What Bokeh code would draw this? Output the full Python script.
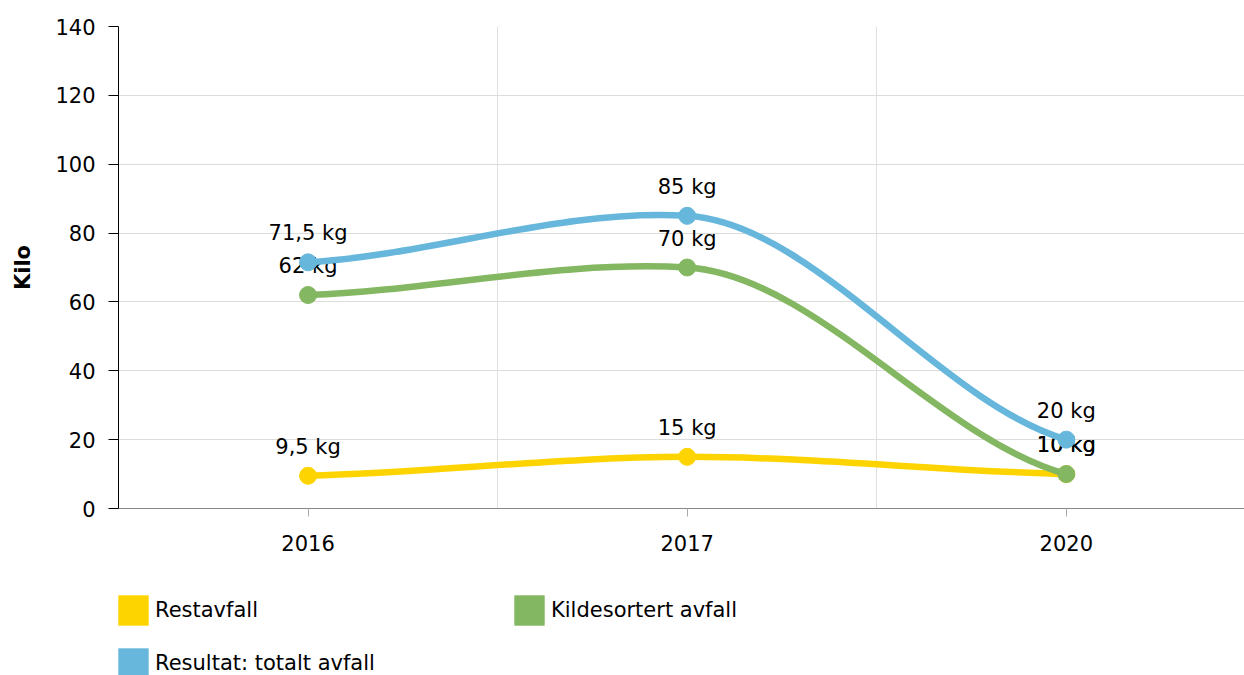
from bokeh.plotting import figure
from bokeh.layouts import column
from bokeh.models import Range1d, FixedTicker, Legend, LegendItem, ColumnDataSource
from bokeh.core.properties import value
from bokeh.embed import file_html
from bokeh.resources import INLINE

years = ["2016", "2017", "2020"]
restavfall = [9.5, 15, 10]
kildesortert = [62, 70, 10]
totalt = [71.5, 85, 20]
series_names = ["Restavfall", "Kildesortert avfall", "Resultat: totalt avfall"]
series_colors = ["#FDD400", "#84B761", "#67B7DC"]
y_ticks = [0, 20, 40, 60, 80, 100, 120, 140]

FONT = "DejaVu Sans"
FS = "21px"

p = figure(width=1244, height=583, output_backend="svg", toolbar_location=None,
           x_range=Range1d(-0.5, 2.47), y_range=Range1d(0, 140),
           min_border_left=118, min_border_top=26, min_border_right=0, min_border_bottom=75)
p.outline_line_color = None
p.background_fill_color = "white"

xpos = list(range(len(years)))

# axes
p.yaxis.ticker = FixedTicker(ticks=y_ticks)
p.yaxis.axis_label = "Kilo"
p.yaxis.axis_label_text_font = FONT
p.yaxis.axis_label_text_font_size = FS
p.yaxis.axis_label_text_font_style = "bold"
p.yaxis.axis_label_text_color = "black"
p.yaxis.axis_label_standoff = 17
p.yaxis.axis_line_color = "black"
p.yaxis.major_tick_line_color = "black"
p.yaxis.major_tick_out = 10
p.yaxis.major_tick_in = 0
p.yaxis.minor_tick_line_color = None
p.yaxis.major_label_text_font = FONT
p.yaxis.major_label_text_font_size = FS
p.yaxis.major_label_text_color = "black"
p.yaxis.major_label_standoff = 13

p.xaxis.ticker = FixedTicker(ticks=xpos)
p.xaxis.major_label_overrides = {i: y for i, y in zip(xpos, years)}
p.xaxis.axis_line_color = "#888888"
p.xaxis.major_tick_line_color = "#AAAAAA"
p.xaxis.major_tick_out = 8
p.xaxis.major_tick_in = 0
p.xaxis.minor_tick_line_color = None
p.xaxis.major_label_text_font = FONT
p.xaxis.major_label_text_font_size = FS
p.xaxis.major_label_text_color = "black"
p.xaxis.major_label_standoff = 18

p.xgrid.ticker = FixedTicker(ticks=[0.5, 1.5])
p.xgrid.grid_line_color = "#E0E0E0"
p.ygrid.grid_line_color = "#DCDCDC"


def bezier_segments(ys, k_in=0.25, k_end=0.5):
    n = len(ys)
    m = []
    for i in range(n):
        if i == 0:
            m.append(k_end * (ys[1] - ys[0]))
        elif i == n - 1:
            m.append(k_end * (ys[-1] - ys[-2]))
        else:
            m.append(k_in * (ys[i + 1] - ys[i - 1]) / 2)
    d = dict(x0=[], y0=[], x1=[], y1=[], cx0=[], cy0=[], cx1=[], cy1=[])
    for i in range(n - 1):
        d["x0"].append(xpos[i]); d["y0"].append(ys[i])
        d["x1"].append(xpos[i + 1]); d["y1"].append(ys[i + 1])
        d["cx0"].append(xpos[i] + 1 / 3); d["cy0"].append(ys[i] + m[i] / 3)
        d["cx1"].append(xpos[i + 1] - 1 / 3); d["cy1"].append(ys[i + 1] - m[i + 1] / 3)
    return d


for name, ys, col in zip(series_names, [restavfall, kildesortert, totalt], series_colors):
    seg = ColumnDataSource(bezier_segments(ys))
    p.bezier(x0="x0", y0="y0", x1="x1", y1="y1", cx0="cx0", cy0="cy0", cx1="cx1", cy1="cy1",
             source=seg, line_color=col, line_width=6.5, line_cap="round")
    src = ColumnDataSource(dict(x=xpos, y=ys,
                                lab=[("%g" % v).replace(".", ",") + " kg" for v in ys]))
    p.scatter("x", "y", source=src, size=17, fill_color=col, line_color=col)
    p.text("x", "y", text="lab", source=src, text_font=value(FONT), text_font_size=FS,
           text_color="black", text_align="center", text_baseline="bottom", y_offset=-17)

# legend figure below the chart
lf = figure(width=1244, height=92, output_backend="svg", toolbar_location=None,
            x_range=Range1d(0, 1), y_range=Range1d(0, 1),
            min_border_left=0, min_border_right=0, min_border_top=0, min_border_bottom=0)
lf.outline_line_color = None
lf.xaxis.visible = False
lf.yaxis.visible = False
lf.grid.visible = False

legend_items = []
for name, col in zip(series_names, series_colors):
    # off-screen swatch renderer, used only for the legend
    dummy = lf.quad(left=[5], right=[6], top=[5], bottom=[6], fill_color=col, line_color=None)
    legend_items.append(LegendItem(label=name, renderers=[dummy]))

legend = Legend(items=legend_items, location=(-4, -7), orientation="horizontal", ncols=2,
                glyph_width=38, glyph_height=38, label_standoff=3, label_width=340,
                spacing=15, padding=0, margin=0, border_line_color=None,
                background_fill_alpha=0, label_text_font=FONT, label_text_font_size=FS,
                label_text_color="black", label_text_baseline="middle")
lf.add_layout(legend, "center")

layout = column(p, lf, spacing=0)
open("out.html", "w").write(file_html(layout, INLINE))
